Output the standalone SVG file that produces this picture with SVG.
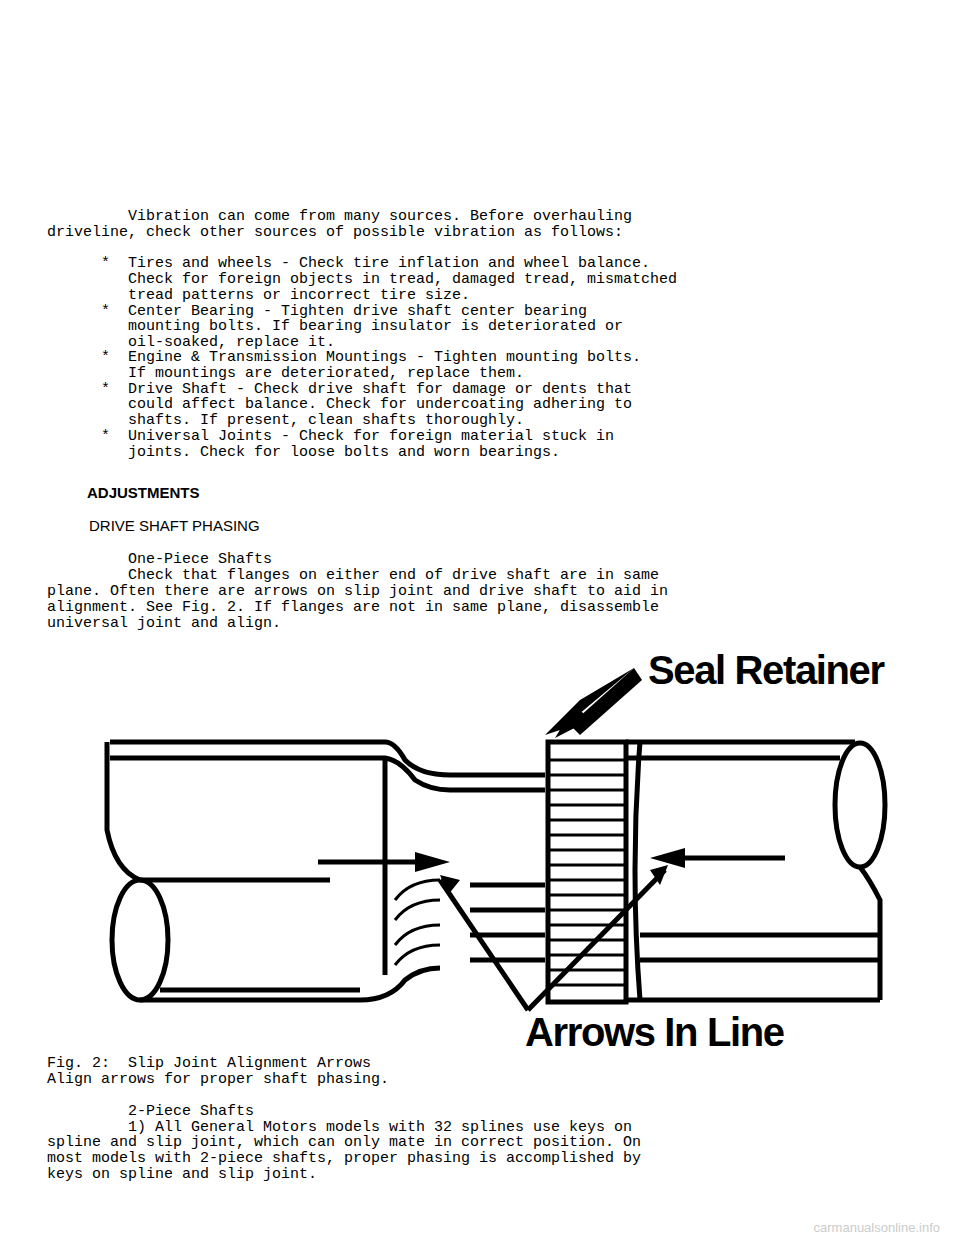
<svg xmlns="http://www.w3.org/2000/svg" width="960" height="1242" viewBox="0 0 960 1242">
<style>
.m{font-family:"Liberation Mono",monospace;font-size:15px;fill:#000;white-space:pre}
.s{stroke:#000;fill:none;stroke-width:5}
.t{stroke:#000;fill:none;stroke-width:3}
.big{font-family:"Liberation Sans Narrow","Liberation Sans",sans-serif;font-size:40px;font-weight:bold;fill:#000}
</style>
<rect width="960" height="1242" fill="#fff"/>
<g id="text1">
<text class="m" x="47" y="220" xml:space="preserve">         Vibration can come from many sources. Before overhauling</text>
<text class="m" x="47" y="236">driveline, check other sources of possible vibration as follows:</text>
<text class="m" x="47" y="267" xml:space="preserve">      *  Tires and wheels - Check tire inflation and wheel balance.</text>
<text class="m" x="47" y="283" xml:space="preserve">         Check for foreign objects in tread, damaged tread, mismatched</text>
<text class="m" x="47" y="299" xml:space="preserve">         tread patterns or incorrect tire size.</text>
<text class="m" x="47" y="315" xml:space="preserve">      *  Center Bearing - Tighten drive shaft center bearing</text>
<text class="m" x="47" y="330" xml:space="preserve">         mounting bolts. If bearing insulator is deteriorated or</text>
<text class="m" x="47" y="346" xml:space="preserve">         oil-soaked, replace it.</text>
<text class="m" x="47" y="361" xml:space="preserve">      *  Engine &amp; Transmission Mountings - Tighten mounting bolts.</text>
<text class="m" x="47" y="377" xml:space="preserve">         If mountings are deteriorated, replace them.</text>
<text class="m" x="47" y="393" xml:space="preserve">      *  Drive Shaft - Check drive shaft for damage or dents that</text>
<text class="m" x="47" y="408" xml:space="preserve">         could affect balance. Check for undercoating adhering to</text>
<text class="m" x="47" y="424" xml:space="preserve">         shafts. If present, clean shafts thoroughly.</text>
<text class="m" x="47" y="440" xml:space="preserve">      *  Universal Joints - Check for foreign material stuck in</text>
<text class="m" x="47" y="456" xml:space="preserve">         joints. Check for loose bolts and worn bearings.</text>
</g>
<text x="87" y="498" font-family="Liberation Sans,sans-serif" font-size="15" font-weight="bold">ADJUSTMENTS</text>
<text x="89" y="531" font-family="Liberation Sans,sans-serif" font-size="15">DRIVE SHAFT PHASING</text>
<g id="text2">
<text class="m" x="47" y="563" xml:space="preserve">         One-Piece Shafts</text>
<text class="m" x="47" y="579" xml:space="preserve">         Check that flanges on either end of drive shaft are in same</text>
<text class="m" x="47" y="595">plane. Often there are arrows on slip joint and drive shaft to aid in</text>
<text class="m" x="47" y="611">alignment. See Fig. 2. If flanges are not in same plane, disassemble</text>
<text class="m" x="47" y="627">universal joint and align.</text>
</g>
<g id="figure">
<!-- left tube -->
<path class="s" d="M110,742 H385 Q395,742 405,760 Q420,775 450,775 H545"/>
<path class="s" d="M110,758 H385 Q400,760 415,780 Q430,790 450,790 H545"/>
<path class="s" d="M107,742 V830 Q115,870 140,880"/>
<ellipse class="s" cx="140" cy="940" rx="28" ry="60"/>
<path class="s" d="M140,880 H330"/>
<path class="s" d="M140,1000 H360 Q390,1000 405,980 Q420,968 440,968"/>
<path class="s" d="M160,990 H360"/>
<path class="s" d="M385,760 V975"/>
<path class="t" d="M395,900 Q410,880 440,880 M395,920 Q410,900 440,900 M395,945 Q410,925 440,925 M395,965 Q410,945 440,945"/>
<path class="s" d="M470,885 H545 M470,910 H545 M470,935 H545 M470,960 H545"/>
<!-- seal retainer -->
<rect class="s" x="548" y="742" width="78" height="260"/>
<g stroke="#000" stroke-width="3">
<line x1="550" y1="760" x2="625" y2="760"/><line x1="550" y1="775" x2="625" y2="775"/><line x1="550" y1="790" x2="625" y2="790"/><line x1="550" y1="805" x2="625" y2="805"/><line x1="550" y1="820" x2="625" y2="820"/><line x1="550" y1="835" x2="625" y2="835"/><line x1="550" y1="850" x2="625" y2="850"/><line x1="550" y1="865" x2="625" y2="865"/><line x1="550" y1="880" x2="625" y2="880"/><line x1="550" y1="895" x2="625" y2="895"/><line x1="550" y1="910" x2="625" y2="910"/><line x1="550" y1="925" x2="625" y2="925"/><line x1="550" y1="940" x2="625" y2="940"/><line x1="550" y1="955" x2="625" y2="955"/><line x1="550" y1="970" x2="625" y2="970"/><line x1="550" y1="985" x2="625" y2="985"/>
</g>
<!-- right tube -->
<path class="s" d="M626,742 H855 M626,758 H840"/>
<path class="s" d="M640,742 Q630,870 640,1000"/>
<ellipse class="s" cx="860" cy="805" rx="25" ry="62"/>
<path class="s" d="M860,867 Q870,880 880,900 V1000 M626,1000 H880 M640,935 H880 M640,960 H880"/>
<!-- arrows -->
<path class="s" d="M318,862 H420"/><path d="M450,862 L415,852 L415,872 Z"/>
<path class="s" d="M785,858 H680"/><path d="M650,858 L685,848 L685,868 Z"/>
<path d="M634,668 L560,730 L545,735 L580,700 Z M590,720 L555,738 L575,705 Z"/>
<path d="M634,668 L642,680 L580,735 L570,725 Z"/>
<path class="s" d="M528,1010 L440,880 M528,1010 L665,870"/>
<path d="M440,875 L460,880 L448,895 Z M668,865 L650,870 L660,885 Z"/>
</g>
<text class="big" x="648" y="684" textLength="237">Seal Retainer</text>
<text class="big" x="525" y="1046" textLength="260">Arrows In Line</text>
<g id="text3">
<text class="m" x="47" y="1067">Fig. 2:  Slip Joint Alignment Arrows</text>
<text class="m" x="47" y="1083">Align arrows for proper shaft phasing.</text>
<text class="m" x="47" y="1115" xml:space="preserve">         2-Piece Shafts</text>
<text class="m" x="47" y="1131" xml:space="preserve">         1) All General Motors models with 32 splines use keys on</text>
<text class="m" x="47" y="1146">spline and slip joint, which can only mate in correct position. On</text>
<text class="m" x="47" y="1162">most models with 2-piece shafts, proper phasing is accomplished by</text>
<text class="m" x="47" y="1178">keys on spline and slip joint.</text>
</g>
<text x="940" y="1232" text-anchor="end" font-family="Liberation Sans,sans-serif" font-size="13" fill="#ccc">carmanualsonline.info</text>
</svg>
